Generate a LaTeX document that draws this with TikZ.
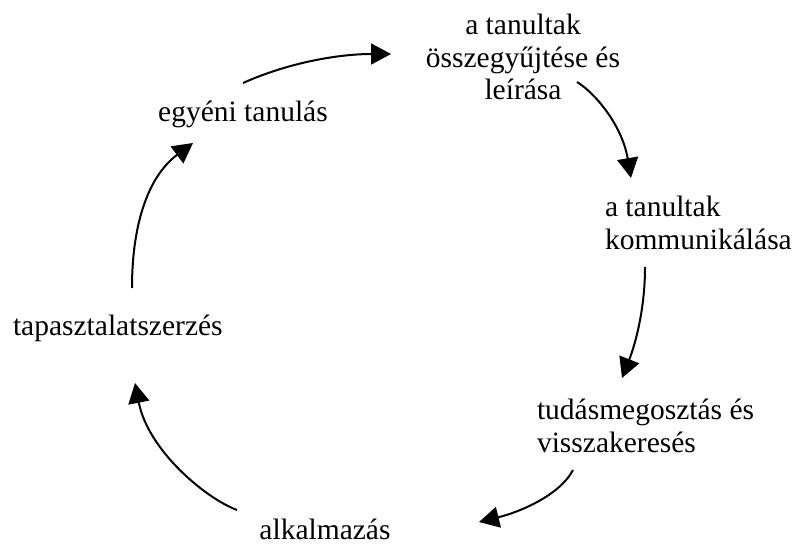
\documentclass[tikz,border=0pt]{standalone}
\usepackage{fontspec}
\setmainfont{Liberation Serif}
\usetikzlibrary{arrows.meta,calc}

\tikzset{
  label/.style={inner sep=0pt, outer sep=0pt,
    font=\fontsize{29.5pt}{32.5pt}\selectfont},
  flow/.style={line width=2pt, -{Triangle[length=20pt,width=21pt]}},
}

\begin{document}
\begin{tikzpicture}[x=1pt,y=-1pt]
  \useasboundingbox (0,0) rectangle (794,545);

  % stages of the cycle (base = baseline of the last line)
  \node[label, align=center, anchor=base] (collect) at (523,100)
    {a tanultak\\összegyűjtése és\\leírása};
  \node[label, align=left, anchor=base west] (comm) at (605,249)
    {a tanultak\\kommunikálása};
  \node[label, align=left, anchor=base west] (share) at (537,452)
    {tudásmegosztás és\\visszakeresés};
  \node[label, anchor=base] (apply) at (325,539) {alkalmazás};
  \node[label, anchor=base west] (exp) at (13,335) {tapasztalatszerzés};
  \node[label, anchor=base] (indiv) at (243,122) {egyéni tanulás};

  % curved arrows running clockwise
  \draw[flow] ($(indiv.base)+(0,-39)$)
    .. controls ($(indiv.base)+(47,-60)$) and ($(collect.base)+(-183,-46)$)
    .. ($(collect.base)+(-132,-46)$);
  \draw[flow] ($(collect.base)+(54,-18)$)
    .. controls ($(collect.base)+(72,-7)$) and ($(comm.base west)+(17,-124)$)
    .. ($(comm.base west)+(26,-71)$);
  \draw[flow] ($(comm.base west)+(40,18)$)
    .. controls ($(comm.base west)+(40,61)$) and ($(share.base west)+(98,-107)$)
    .. ($(share.base west)+(85,-74)$);
  \draw[flow] ($(share.base west)+(36,18)$)
    .. controls ($(share.base west)+(23,43)$) and ($(apply.base)+(195,-27)$)
    .. ($(apply.base)+(154,-17)$);
  \draw[flow] ($(apply.base)+(-88,-29)$)
    .. controls ($(apply.base)+(-120,-41)$) and ($(exp.base west)+(135,115)$)
    .. ($(exp.base west)+(122,48)$);
  \draw[flow] ($(exp.base west)+(119,-47)$)
    .. controls ($(exp.base west)+(119,-115)$) and ($(indiv.base)+(-93,53)$)
    .. ($(indiv.base)+(-50,21)$);
\end{tikzpicture}
\end{document}
